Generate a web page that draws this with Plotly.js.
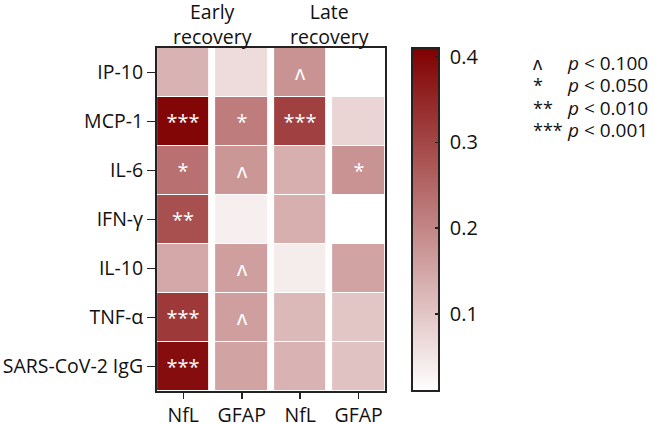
<!DOCTYPE html>
<html>
<head>
<meta charset="utf-8">
<script src="https://cdn.plot.ly/plotly-3.0.1.min.js"></script>
<style>html,body{margin:0;padding:0;background:#fff;}#chart{width:654px;height:423px;}</style>
</head>
<body>
<div id="chart"></div>
<script>
const markers = ["IP-10", "MCP-1", "IL-6", "IFN-γ", "IL-10", "TNF-α", "SARS-CoV-2 IgG"];
const columnLabels = ["NfL", "GFAP", "NfL", "GFAP"];
const phases = ["Early<br>recovery", "Late<br>recovery"];

// correlation values per column (rows follow markers)
const earlyNfL  = [0.13, 0.40, 0.235, 0.285, 0.147, 0.32, 0.39];
const earlyGFAP = [0.065, 0.215, 0.175, 0.035, 0.16, 0.16, 0.155];
const lateNfL   = [0.18, 0.31, 0.135, 0.135, 0.04, 0.12, 0.13];
const lateGFAP  = [0.0, 0.077, 0.18, 0.005, 0.155, 0.10, 0.105];

// significance marks
const earlyNfLSig  = ["", "***", "*", "**", "", "***", "***"];
const earlyGFAPSig = ["", "*", "ʌ", "", "ʌ", "ʌ", ""];
const lateNfLSig   = ["ʌ", "***", "", "", "", "", ""];
const lateGFAPSig  = ["", "", "*", "", "", "", ""];

const colorbarTicks = [0.1, 0.2, 0.3, 0.4];
const legendSymbols = ["ʌ", "*", "**", "***"];
const legendText = ["<i>p</i> < 0.100", "<i>p</i> < 0.050", "<i>p</i> < 0.010", "<i>p</i> < 0.001"];

const cols = [earlyNfL, earlyGFAP, lateNfL, lateGFAP];
const sigs = [earlyNfLSig, earlyGFAPSig, lateNfLSig, lateGFAPSig];
const z = markers.map((m, i) => cols.map(c => c[i]));
const text = markers.map((m, i) => sigs.map(c => c[i]));

const FONT = "Open Sans, Noto Sans, sans-serif";
const FS = 19.5;

const trace = {
  type: "heatmap",
  x: [0, 1, 2, 3],
  y: markers,
  z: z,
  text: text,
  texttemplate: "%{text}",
  textfont: {color: "#ffffff", size: 20, family: FONT},
  hoverinfo: "skip",
  xgap: 7,
  ygap: 1,
  zmin: 0.01,
  zmax: 0.41,
  colorscale: [[0, "#ffffff"], [1, "#800000"]],
  colorbar: {
    x: 1.12, xanchor: "left", xref: "paper",
    y: 0.5, yanchor: "middle", len: 1, lenmode: "fraction",
    thickness: 27, xpad: 0, ypad: 0,
    outlinewidth: 2, outlinecolor: "#222",
    tickvals: colorbarTicks,
    ticktext: colorbarTicks.map(v => "\u00a0" + v.toFixed(1)),
    ticks: "inside", ticklen: 5, tickwidth: 1.5, tickcolor: "#222",
    tickfont: {size: FS + 0.5, family: FONT, color: "#111"}
  }
};

const annotations = [];
phases.forEach((p, i) => {
  annotations.push({
    x: 0.5 + 2 * i, xref: "x", y: 1, yref: "paper",
    yanchor: "bottom", xanchor: "center", showarrow: false, yshift: -4,
    text: p, font: {size: FS, family: FONT, color: "#111"}
  });
});
const legY = [0.956, 0.891, 0.825, 0.761];
legendSymbols.forEach((s, i) => {
  annotations.push({
    x: 1.645, xref: "paper", y: legY[i], yref: "paper",
    xanchor: "left", yanchor: "middle", showarrow: false, borderpad: 0,
    text: s, font: {size: 18, family: FONT, color: "#111"}
  });
  annotations.push({
    x: 1.795, xref: "paper", y: legY[i], yref: "paper",
    xanchor: "left", yanchor: "middle", showarrow: false, borderpad: 0,
    text: legendText[i], font: {size: 19, family: FONT, color: "#111"}
  });
});

const layout = {
  width: 654, height: 423,
  margin: {l: 157, r: 269, t: 48, b: 32},
  paper_bgcolor: "#fff", plot_bgcolor: "#fff",
  font: {family: FONT, size: FS, color: "#111"},
  xaxis: {
    range: [-0.45, 3.45], tickvals: [0, 1, 2, 3], ticktext: columnLabels,
    showgrid: false, zeroline: false, showline: true, mirror: true,
    linecolor: "#222", linewidth: 2, ticks: "outside", ticklen: 6, tickwidth: 1.5,
    tickcolor: "#222", tickfont: {size: FS, family: FONT, color: "#111"},
    ticklabelstandoff: 0
  },
  yaxis: {
    autorange: "reversed", type: "category",
    showgrid: false, zeroline: false, showline: true, mirror: true,
    linecolor: "#222", linewidth: 2, ticks: "outside", ticklen: 8, tickwidth: 1.5,
    tickcolor: "#222", tickfont: {size: FS, family: FONT, color: "#111"}
  },
  annotations: annotations,
  showlegend: false
};

Plotly.newPlot("chart", [trace], layout, {staticPlot: true, displayModeBar: false});
</script>
</body>
</html>
